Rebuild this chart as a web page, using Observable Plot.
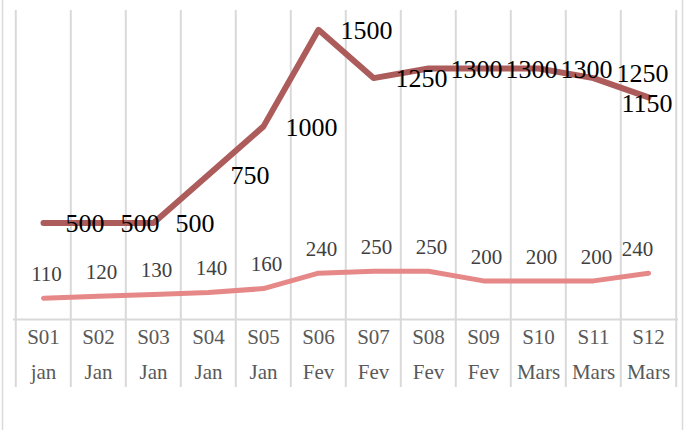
<!DOCTYPE html>
<html>
<head>
<meta charset="utf-8">
<script src="https://cdn.jsdelivr.net/npm/d3@7"></script>
<script src="https://cdn.jsdelivr.net/npm/@observablehq/plot@0.6"></script>
<style>
  html, body { margin: 0; padding: 0; background: #fff; }
</style>
</head>
<body>
<div id="chart"></div>
<script>
const weeks = ["S01","S02","S03","S04","S05","S06","S07","S08","S09","S10","S11","S12"];
const months = ["jan","Jan","Jan","Jan","Jan","Fev","Fev","Fev","Fev","Mars","Mars","Mars"];
const seriesDark = [500,500,500,750,1000,1500,1250,1300,1300,1300,1250,1150];
const seriesLight = [110,120,130,140,160,240,250,250,200,200,200,240];

const W = 686, H = 430;
const mL = 13, mR = 8, mT = 10, mB = 111;
const step = (W - mL - mR) / weeks.length;

const data = weeks.map((w, i) => ({week: w, month: months[i], dark: seriesDark[i], light: seriesLight[i], i}));
const last = weeks.length - 1;
const notLast = data.filter(d => d.i !== last && d.i !== last - 1);
const secondLast = data.filter(d => d.i === last - 1);
const onlyLast = data.filter(d => d.i === last);
const notLastL = data.filter(d => d.i !== last);

const grid = "#d9d9d9";
const darkColor = "#ad5c5c";
const lightColor = "#e68888";

const chart = Plot.plot({
  width: W,
  height: H,
  marginLeft: mL,
  marginRight: mR,
  marginTop: mT,
  marginBottom: mB,
  style: {fontFamily: "'Liberation Serif', serif", background: "#fff"},
  x: {type: "point", domain: weeks, padding: 0.5, axis: null},
  y: {domain: [0, 1600], axis: null},
  marks: [
    Plot.frame({stroke: grid, strokeWidth: 1.5, insetLeft: -11, insetRight: -4, insetTop: -12, insetBottom: -120}),
    Plot.ruleX(weeks, {x: d => d, dx: -step / 2, stroke: grid, strokeWidth: 2, insetBottom: -68}),
    Plot.ruleX([weeks[last]], {x: d => d, dx: step / 2, stroke: grid, strokeWidth: 2, insetBottom: -68}),
    Plot.ruleY([0], {stroke: grid, strokeWidth: 2}),
    Plot.line(data, {x: "week", y: "light", stroke: lightColor, strokeWidth: 5, strokeLinecap: "round", strokeLinejoin: "round"}),
    Plot.line(data, {x: "week", y: "dark", stroke: darkColor, strokeWidth: 6, strokeLinecap: "round", strokeLinejoin: "round"}),
    Plot.text(notLast, {x: "week", y: "dark", text: d => String(d.dark), dx: 22, dy: 1, textAnchor: "start", fontSize: 26, fill: "#000"}),
    Plot.text(secondLast, {x: "week", y: "dark", text: d => String(d.dark), dx: 23, dy: -4, textAnchor: "start", fontSize: 26, fill: "#000"}),
    Plot.text(onlyLast, {x: "week", y: "dark", text: d => String(d.dark), dx: 24, dy: 6, textAnchor: "end", fontSize: 26, fill: "#000"}),
    Plot.text(notLastL, {x: "week", y: "light", text: d => String(d.light), dx: 3, dy: -24, fontSize: 21, fill: "#404040"}),
    Plot.text(onlyLast, {x: "week", y: "light", text: d => String(d.light), dx: -11, dy: -24, fontSize: 21, fill: "#404040"}),
    Plot.text(data, {x: "week", text: "week", frameAnchor: "bottom", dy: 24, fontSize: 21, fill: "#595959"}),
    Plot.text(data, {x: "week", text: "month", frameAnchor: "bottom", dy: 59, fontSize: 21, fill: "#595959"})
  ]
});
document.getElementById("chart").appendChild(chart);
</script>
</body>
</html>
